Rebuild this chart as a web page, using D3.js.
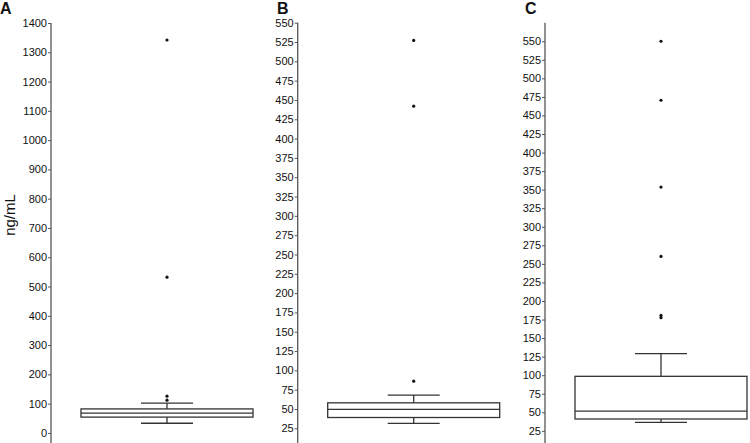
<!DOCTYPE html>
<html lang="en">
<head>
<meta charset="UTF-8">
<script src="https://cdn.jsdelivr.net/npm/d3@7/dist/d3.min.js"></script>
<style>
  html, body { margin: 0; background: #fff; }
  text { font-family: "Liberation Sans", Arial, sans-serif; }
</style>
</head>
<body>
<svg id="chart" width="750" height="443"></svg>
<script>
// box summaries (ng/mL)
var panels = ["A", "B", "C"];
var whiskerLow = [33, 31.5, 36.5];
var q1 = [54, 39, 41];
var medians = [67.5, 49.5, 51.5];
var q3 = [82, 58, 98.5];
var whiskerHigh = [101.5, 68, 129];
var outliers = [
  [1342, 532, 125.5, 112],
  [527, 442, 86],
  [550, 470.5, 353.5, 260, 180.5, 177.5]
];
var ticksA = [0, 100, 200, 300, 400, 500, 600, 700, 800, 900, 1000, 1100, 1200, 1300, 1400];
var ticksB = [25, 50, 75, 100, 125, 150, 175, 200, 225, 250, 275, 300, 325, 350, 375, 400, 425, 450, 475, 500, 525, 550];
var ticksC = [25, 50, 75, 100, 125, 150, 175, 200, 225, 250, 275, 300, 325, 350, 375, 400, 425, 450, 475, 500, 525, 550];

var svg = d3.select("#chart");

// per-panel layout
var layout = [
  {axisX: 51,    domain: [-31, 1400], top: 23, ticks: ticksA, letterX: 0},
  {axisX: 297.7, domain: [7.3, 550],  top: 22.7, ticks: ticksB, letterX: 277},
  {axisX: 545,   domain: [10, 575],   top: 22.7, ticks: ticksC, letterX: 525}
];
var bottom = 443;
var boxOffset = 116, boxHalf = 86, capHalf = 26;

panels.forEach(function(name, i) {
  var L = layout[i];
  var y = d3.scaleLinear().domain(L.domain).range([bottom - 1, L.top]);
  var g = svg.append("g");

  // axis
  var ax = g.append("g")
      .attr("transform", "translate(" + L.axisX + ",0)")
      .call(d3.axisLeft(y).tickValues(L.ticks).tickFormat(d3.format("d"))
        .tickSize(3).tickSizeOuter(0).tickPadding(1));
  ax.select(".domain").attr("stroke", "#555").attr("stroke-width", 1.3)
      .attr("d", "M0," + L.top + "V" + bottom);
  ax.selectAll(".tick line").attr("stroke", "#555");
  ax.selectAll(".tick text").attr("fill", "#111").style("font-size", "11px")
      .style("font-family", "'Liberation Sans', Arial, sans-serif");

  // panel letter
  g.append("text").attr("x", L.letterX).attr("y", 14)
      .style("font-size", "16px").style("font-weight", "bold").attr("fill", "#111")
      .text(name);

  var cx = L.axisX + boxOffset;
  var line = "#333";

  // whiskers
  g.append("line").attr("x1", cx).attr("x2", cx)
      .attr("y1", y(q3[i])).attr("y2", y(whiskerHigh[i]))
      .attr("stroke", line).attr("stroke-width", 1.3);
  g.append("line").attr("x1", cx).attr("x2", cx)
      .attr("y1", y(q1[i])).attr("y2", y(whiskerLow[i]))
      .attr("stroke", line).attr("stroke-width", 1.3);
  [whiskerHigh[i], whiskerLow[i]].forEach(function(v) {
    g.append("line").attr("x1", cx - capHalf).attr("x2", cx + capHalf)
        .attr("y1", y(v)).attr("y2", y(v))
        .attr("stroke", line).attr("stroke-width", 1.3);
  });

  // box
  g.append("rect").attr("x", cx - boxHalf).attr("width", boxHalf * 2)
      .attr("y", y(q3[i])).attr("height", y(q1[i]) - y(q3[i]))
      .attr("fill", "#fff").attr("stroke", line).attr("stroke-width", 1.3);
  g.append("line").attr("x1", cx - boxHalf).attr("x2", cx + boxHalf)
      .attr("y1", y(medians[i])).attr("y2", y(medians[i]))
      .attr("stroke", line).attr("stroke-width", 1.3);

  // outliers
  g.selectAll("circle.out").data(outliers[i]).enter().append("circle")
      .attr("class", "out")
      .attr("cx", cx).attr("cy", function(d) { return y(d); })
      .attr("r", 1.6).attr("fill", "#111");
});

// y label
svg.append("text")
    .attr("transform", "translate(15,215) rotate(-90)")
    .attr("text-anchor", "middle")
    .style("font-size", "15px").attr("fill", "#111")
    .text("ng/mL");
</script>
</body>
</html>
